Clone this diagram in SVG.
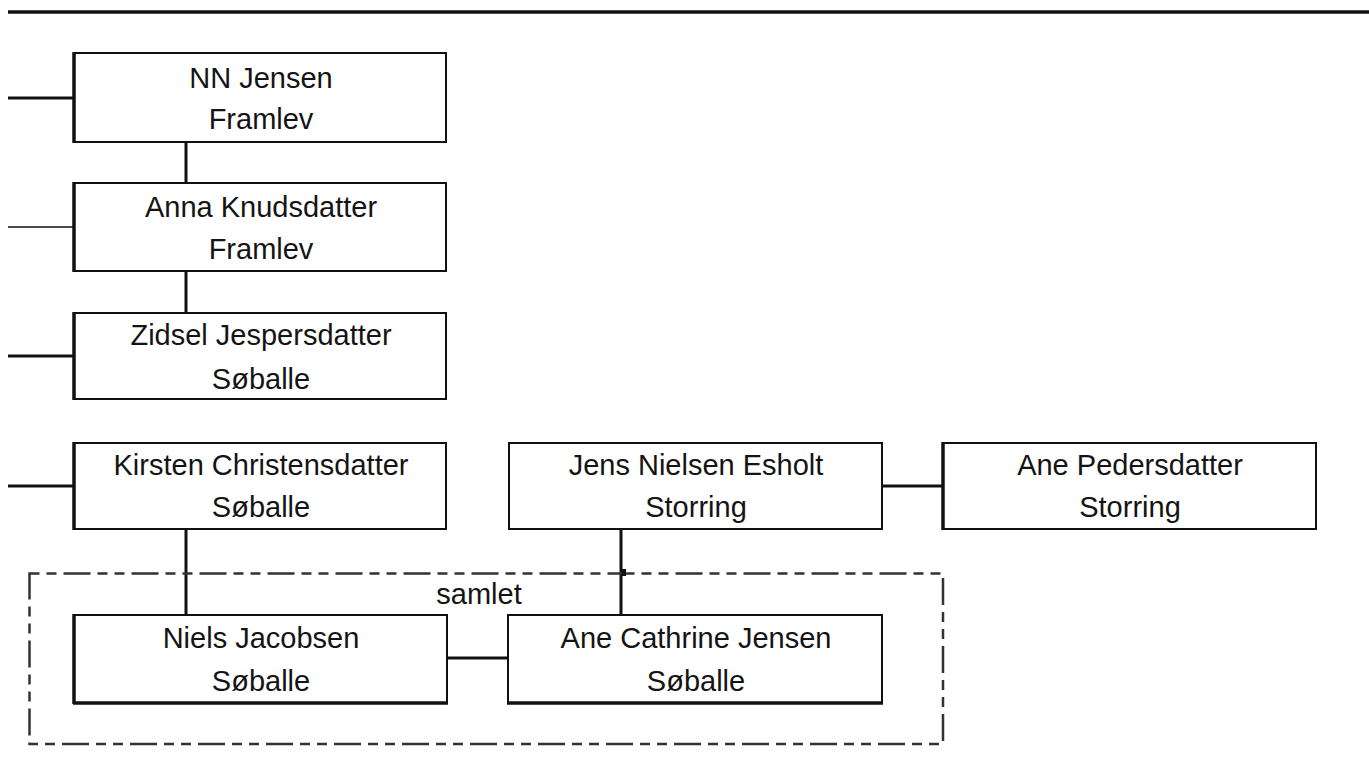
<svg xmlns="http://www.w3.org/2000/svg" width="1369" height="783" viewBox="0 0 1369 783">
<style>
.box{fill:#fff;stroke:#111;stroke-width:2}
.edge{stroke:#111;stroke-width:3.5;fill:none}
.t{font-family:"Liberation Sans",Arial,sans-serif;font-size:29px;fill:#141414;text-anchor:middle}
.c{stroke:#111;stroke-width:3;fill:none}
.thin{stroke:#111;stroke-width:1.6;fill:none}
</style>
<rect width="1369" height="783" fill="#fff"/>
<line x1="8" y1="12" x2="1369" y2="12" stroke="#111" stroke-width="3.5"/>
<g id="connectors">
<line class="c" x1="8" y1="98" x2="74" y2="98"/>
<line class="thin" x1="8" y1="227" x2="74" y2="227"/>
<line class="c" x1="8" y1="356" x2="74" y2="356"/>
<line class="c" x1="8" y1="486" x2="74" y2="486"/>
<line class="c" x1="186" y1="142" x2="186" y2="183"/>
<line class="c" x1="186" y1="271" x2="186" y2="313"/>
<line class="c" x1="882" y1="486" x2="943" y2="486"/>
<line class="c" x1="186" y1="529" x2="186" y2="615"/>
<line class="c" x1="621" y1="529" x2="621" y2="615"/>
<line class="c" x1="447" y1="658" x2="508" y2="658"/>
</g>
<g id="group-samlet">
<rect x="29.5" y="573.5" width="913.5" height="170.5" fill="none" stroke="#333" stroke-width="2.5" stroke-dasharray="10,7,10,7,27,7"/>
<rect x="622" y="569" width="4" height="7" fill="#111"/>
<text class="t" x="479" y="604">samlet</text>
</g>
<g id="nn-jensen">
<rect class="box" x="74" y="53" width="372" height="89"/>
<line class="edge" x1="74" y1="52" x2="74" y2="143"/>
<text class="t" x="261" y="88">NN Jensen</text>
<text class="t" x="261" y="129">Framlev</text>
</g>
<g id="anna-knudsdatter">
<rect class="box" x="74" y="183" width="372" height="88"/>
<line class="edge" x1="74" y1="182" x2="74" y2="272"/>
<text class="t" x="261" y="217">Anna Knudsdatter</text>
<text class="t" x="261" y="259">Framlev</text>
</g>
<g id="zidsel-jespersdatter">
<rect class="box" x="74" y="313" width="372" height="86"/>
<line class="edge" x1="74" y1="312" x2="74" y2="400"/>
<text class="t" x="261" y="345">Zidsel Jespersdatter</text>
<text class="t" x="261" y="389">Søballe</text>
</g>
<g id="kirsten-christensdatter">
<rect class="box" x="74" y="443" width="372" height="86"/>
<line class="edge" x1="74" y1="442" x2="74" y2="530"/>
<text class="t" x="261" y="475">Kirsten Christensdatter</text>
<text class="t" x="261" y="517">Søballe</text>
</g>
<g id="jens-nielsen-esholt">
<rect class="box" x="509" y="443" width="373" height="86"/>
<text class="t" x="696" y="475">Jens Nielsen Esholt</text>
<text class="t" x="696" y="517">Storring</text>
</g>
<g id="ane-pedersdatter">
<rect class="box" x="943" y="443" width="373" height="86"/>
<line class="edge" x1="943" y1="442" x2="943" y2="530"/>
<text class="t" x="1130" y="475">Ane Pedersdatter</text>
<text class="t" x="1130" y="517">Storring</text>
</g>
<g id="niels-jacobsen">
<rect class="box" x="74" y="615" width="373" height="88"/>
<line class="edge" x1="73" y1="703" x2="448" y2="703"/>
<line class="edge" x1="74" y1="614" x2="74" y2="704"/>
<text class="t" x="261" y="648">Niels Jacobsen</text>
<text class="t" x="261" y="691">Søballe</text>
</g>
<g id="ane-cathrine-jensen">
<rect class="box" x="508" y="615" width="374" height="88"/>
<line class="edge" x1="507" y1="703" x2="883" y2="703"/>
<text class="t" x="696" y="648">Ane Cathrine Jensen</text>
<text class="t" x="696" y="691">Søballe</text>
</g>
</svg>
